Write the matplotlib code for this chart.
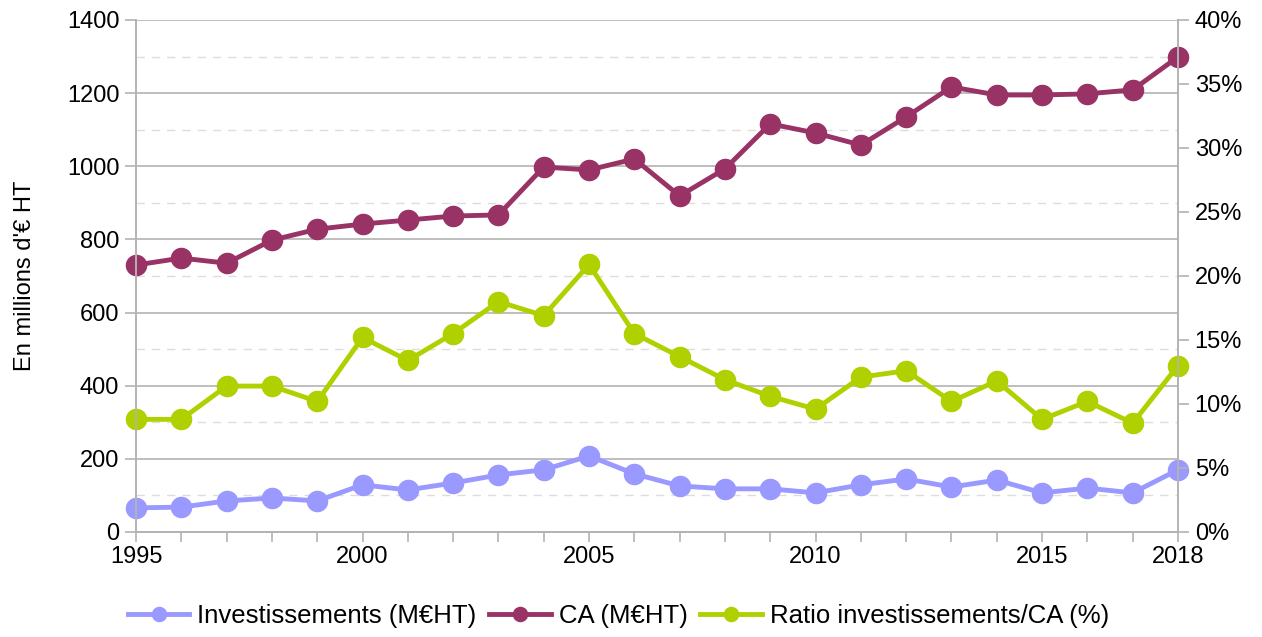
import matplotlib.pyplot as plt
from matplotlib.ticker import MultipleLocator, FuncFormatter

plt.rcParams['font.family'] = ['Liberation Sans', 'DejaVu Sans']

years = list(range(1995, 2019))
invest = [66, 68, 85, 93, 85, 129, 115, 134, 156, 170, 208, 159,
          126, 118, 118, 107, 129, 145, 123, 142, 107, 120, 107, 170]
ca = [730, 749, 735, 798, 828, 842, 853, 864, 867, 998, 990, 1020,
      919, 993, 1116, 1091, 1058, 1135, 1217, 1195, 1195, 1198, 1209, 1299]
ratio = [8.8, 8.8, 11.4, 11.4, 10.2, 15.2, 13.4, 15.5, 18.0, 16.9, 20.9, 15.5,
         13.7, 11.9, 10.6, 9.6, 12.1, 12.6, 10.2, 11.8, 8.8, 10.2, 8.5, 13.0]
xlabels = [1995, 2000, 2005, 2010, 2015, 2018]

c_inv = '#9999ff'
c_ca = '#993366'
c_ratio = '#b0d000'
grey = '#b3b3b3'
fs = 17

fig = plt.figure(figsize=(12.62, 6.37), dpi=100)
ax = fig.add_axes([136/1262, 1-532/637, (1178-136)/1262, (532-20)/637])
ax2 = ax.twinx()

lw = 3.5
ms = 14.5
l1, = ax.plot(years, invest, color=c_inv, lw=lw, marker='o', ms=ms, clip_on=False,
              label='Investissements (M€HT)')
l2, = ax.plot(years, ca, color=c_ca, lw=lw, marker='o', ms=ms, clip_on=False,
              label='CA (M€HT)')
l3, = ax2.plot(years, ratio, color=c_ratio, lw=lw, marker='o', ms=ms, clip_on=False,
               label='Ratio investissements/CA (%)')

ax.set_xlim(1995, 2018)
ax.set_ylim(0, 1400)
ax2.set_ylim(0, 40)
ax.yaxis.set_major_locator(MultipleLocator(200))
ax.yaxis.set_minor_locator(MultipleLocator(100))
ax2.yaxis.set_major_locator(MultipleLocator(5))
ax2.yaxis.set_major_formatter(FuncFormatter(lambda v, p: f'{v:.0f}%'))
ax.set_xticks(xlabels)
ax.set_xticks(years, minor=True)
ax.set_xticklabels([str(y) for y in xlabels])

ax.grid(True, which='major', axis='y', color=grey, lw=1.2)
ax.grid(True, which='minor', axis='y', color='#dddddd', lw=1, ls=(0, (6, 5)))
ax.set_axisbelow(True)

for a in (ax, ax2):
    for s in a.spines.values():
        s.set_color(grey)
        s.set_linewidth(1.2)
    a.spines['top'].set_visible(False)
    a.tick_params(which='both', colors=grey, labelcolor='black', labelsize=fs,
                  length=8, width=1.2, pad=4)
ax.tick_params(axis='y', which='minor', length=0)
ax.tick_params(axis='x', which='both', length=7, pad=3)

ax.set_ylabel("En millions d'€ HT", fontsize=fs, labelpad=22)

fig.legend(handles=[l1, l2, l3], loc='lower center', bbox_to_anchor=(0.49, -0.022), ncol=3,
           frameon=False, fontsize=18.5, handlelength=2.4, handletextpad=0.3,
           columnspacing=0.5, markerscale=0.7)

fig.savefig('out.png', dpi=100)
